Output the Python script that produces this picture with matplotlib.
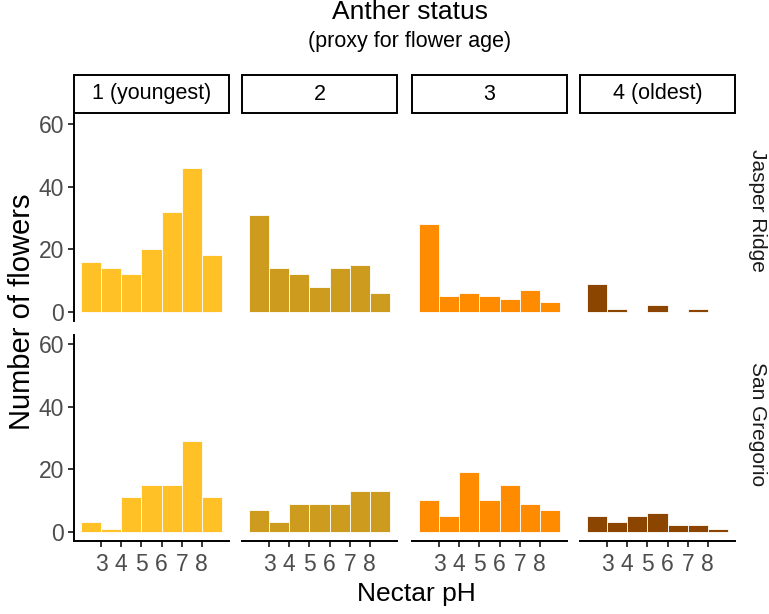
import numpy as np
import matplotlib
matplotlib.use("Agg")
import matplotlib.pyplot as plt
from matplotlib.patches import Rectangle

plt.rcParams['font.family'] = ['Liberation Sans', 'DejaVu Sans']

#------------------------------------------------------------------------------
# Data: counts of flowers per nectar pH bin (bins 2-3, 3-4, ..., 8-9)
bin_edges = [2, 3, 4, 5, 6, 7, 8, 9]
ph_ticks = [3, 4, 5, 6, 7, 8]
anther_status = ['1 (youngest)', '2', '3', '4 (oldest)']
sites = ['Jasper Ridge', 'San Gregorio']
jasper_ridge = [[16, 14, 12, 20, 32, 46, 18],
                [31, 14, 12, 8, 14, 15, 6],
                [28, 5, 6, 5, 4, 7, 3],
                [9, 1, 0, 2, 0, 1, 0]]
san_gregorio = [[3, 1, 11, 15, 15, 29, 11],
                [7, 3, 9, 9, 9, 13, 13],
                [10, 5, 19, 10, 15, 9, 7],
                [5, 3, 5, 6, 2, 2, 1]]
counts = [jasper_ridge, san_gregorio]
col = ['#FFC125', '#CD9B1D', '#FF8C00', '#8B4500']

#------------------------------------------------------------------------------
W, H = 769, 614
fig = plt.figure(figsize=(W/100, H/100), dpi=100)

col_x = [74, 242, 412, 580]   # left edge of each panel column (px)
pw = 155                       # panel width (px)
row_y = [115, 335]            # top edge of each panel row (px)
ph = 206                       # panel height (px)
site_y = [210, 424]           # centre of the row labels (px)
tick_col = '#4D4D4D'

for r in range(2):
    for c in range(4):
        ax = fig.add_axes([col_x[c]/W, 1 - (row_y[r]+ph)/H, pw/W, ph/H])
        left = np.array(bin_edges[:-1])
        ax.bar(left, counts[r][c], width=1, align='edge', color=col[c],
               edgecolor='white', linewidth=0.6)
        ax.set_xlim(1.65, 9.35)
        ax.set_ylim(-3, 63)
        for s in ['top', 'right']:
            ax.spines[s].set_visible(False)
        ax.spines['left'].set_visible(c == 0)
        ax.spines['bottom'].set_visible(r == 1)
        ax.spines['left'].set_linewidth(1.4)
        ax.spines['bottom'].set_linewidth(1.4)
        ax.set_xticks(ph_ticks)
        ax.set_yticks([0, 20, 40, 60])
        ax.tick_params(axis='x', bottom=(r == 1), labelbottom=(r == 1),
                       length=4, width=1.1, labelsize=16.5, labelcolor=tick_col, pad=4.5)
        ax.tick_params(axis='y', left=(c == 0), labelleft=(c == 0),
                       length=4, width=1.1, labelsize=16.5, labelcolor=tick_col, pad=3)
        ax.patch.set_alpha(0)

        # facet strips
        if r == 0:
            fig.patches.append(Rectangle((col_x[c]/W, 1 - 113/H), pw/W, 38/H,
                                         transform=fig.transFigure, facecolor='white',
                                         edgecolor='black', linewidth=1.4))
            fig.text((col_x[c] + pw/2)/W, 1 - 94/H, anther_status[c],
                     ha='center', va='center', fontsize=15.5)
    fig.text(757/W, 1 - site_y[r]/H, sites[r], rotation=-90,
             ha='center', va='center', fontsize=15, color='#1A1A1A')

fig.text(410/W, 1 - 12/H, 'Anther status', ha='center', va='center', fontsize=19)
fig.text(410/W, 1 - 41/H, '(proxy for flower age)', ha='center', va='center', fontsize=15.5)
fig.text(416/W, 1 - 594/H, 'Nectar pH', ha='center', va='center', fontsize=19)
fig.text(22/W, 1 - 312/H, 'Number of flowers', rotation=90, ha='center', va='center', fontsize=21)

fig.savefig('out.png', dpi=100)
